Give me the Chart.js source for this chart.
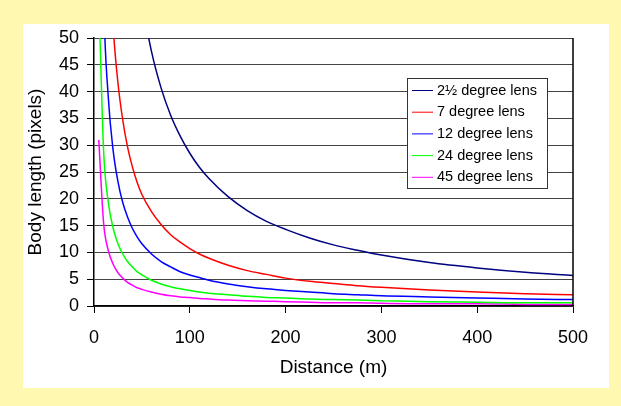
<!DOCTYPE html>
<html>
<head>
<meta charset="utf-8">
<script src="https://cdn.jsdelivr.net/npm/chart.js@4.4.0/dist/chart.umd.min.js"></script>
<style>
  html, body { margin: 0; padding: 0; background: #fff8b0; }
  #panel { position: absolute; left: 23px; top: 24px; width: 586px; height: 364px; background: #fff; }
  canvas { display: block; }
</style>
</head>
<body>
<div id="panel"><canvas id="chart" width="586" height="364"></canvas></div>
<script>
// distance in metres
const distances = [5, 10, 15, 20, 25, 30, 35, 40, 45, 50, 60, 70, 80, 90, 100, 110, 120, 140, 160, 180, 200, 225, 250, 275, 300, 350, 400, 450, 500];

// body length in pixels
const lens2_5 = [570, 285, 190, 142, 114, 95, 81.4, 71.3, 63.3, 57, 47.5, 40.7, 35.6, 31.7, 28.5, 25.9, 23.8, 20.4, 17.8, 15.8, 14.3, 12.7, 11.4, 10.4, 9.5, 8.1, 7.1, 6.3, 5.7];
const lens7 = [208, 104, 69.3, 52, 41.6, 34.7, 29.7, 26, 23.1, 20.8, 17.6, 15.2, 13.3, 11.9, 10.7, 9.7, 8.9, 7.6, 6.6, 5.9, 5.2, 4.6, 4.2, 3.8, 3.5, 3.0, 2.6, 2.3, 2.1];
const lens12 = [116, 58, 38.7, 29, 23.2, 19.3, 16.6, 14.5, 12.9, 11.6, 9.7, 8.3, 7.3, 6.4, 5.8, 5.3, 4.8, 4.1, 3.6, 3.2, 2.9, 2.6, 2.3, 2.1, 1.9, 1.7, 1.5, 1.3, 1.2];
const lens24 = [58, 29, 19.3, 14.5, 11.6, 9.7, 8.3, 7.3, 6.4, 5.8, 4.8, 4.1, 3.6, 3.2, 2.9, 2.6, 2.4, 2.1, 1.8, 1.6, 1.5, 1.3, 1.2, 1.1, 1.0, 0.8, 0.7, 0.6, 0.6];
const lens45 = [31, 15.5, 10.3, 7.8, 6.2, 5.2, 4.4, 3.9, 3.4, 3.1, 2.6, 2.2, 1.9, 1.7, 1.6, 1.4, 1.3, 1.1, 1.0, 0.9, 0.8, 0.7, 0.6, 0.6, 0.5, 0.4, 0.4, 0.3, 0.3];

const seriesNames = ['2½ degree lens', '7 degree lens', '12 degree lens', '24 degree lens', '45 degree lens'];
const seriesValues = [lens2_5, lens7, lens12, lens24, lens45];
const seriesColors = ['#000080', '#ff0000', '#0000ff', '#00ff00', '#ff00ff'];

const yTicks = [0, 5, 10, 15, 20, 25, 30, 35, 40, 45, 50];
const xTicks = [0, 100, 200, 300, 400, 500];

const FONT = 'Arial, "Liberation Sans", Helvetica, sans-serif';

// box legend drawn inside the plot, like the original
const boxLegend = {
  id: 'boxLegend',
  afterDraw(chart) {
    const ctx = chart.ctx;
    const x = 384, y = 54, w = 140, h = 110;
    ctx.save();
    ctx.fillStyle = '#fff';
    ctx.fillRect(x, y, w, h);
    ctx.strokeStyle = '#333';
    ctx.lineWidth = 1;
    ctx.strokeRect(x + 0.5, y + 0.5, w, h);
    ctx.font = '14.5px ' + FONT;
    ctx.textBaseline = 'middle';
    chart.data.datasets.forEach((ds, i) => {
      const cy = y + 12.5 + i * 21.7;
      ctx.strokeStyle = ds.borderColor;
      ctx.lineWidth = 1;
      ctx.beginPath();
      ctx.moveTo(x + 5, cy);
      ctx.lineTo(x + 26, cy);
      ctx.stroke();
      ctx.fillStyle = '#000';
      ctx.fillText(ds.label, x + 30, cy);
    });
    // right border of plot area
    const a = chart.chartArea;
    ctx.strokeStyle = '#000';
    ctx.lineWidth = 1.5;
    ctx.beginPath();
    ctx.moveTo(a.right, a.top);
    ctx.lineTo(a.right, a.bottom);
    ctx.stroke();
    ctx.restore();
  }
};

new Chart(document.getElementById('chart'), {
  type: 'line',
  data: {
    datasets: seriesNames.map((name, i) => ({
      label: name,
      data: distances.map((d, j) => ({x: d, y: seriesValues[i][j]})),
      borderColor: seriesColors[i],
      backgroundColor: seriesColors[i],
      borderWidth: 1.5,
      pointRadius: 0,
      cubicInterpolationMode: 'monotone',
      fill: false
    }))
  },
  options: {
    responsive: false,
    animation: false,
    devicePixelRatio: 1,
    layout: {padding: {left: 0, right: 36, top: 14, bottom: 0}},
    plugins: {legend: {display: false}, tooltip: {enabled: false}},
    scales: {
      x: {
        type: 'linear',
        min: 0,
        max: 500,
        afterBuildTicks: s => { s.ticks = xTicks.map(v => ({value: v})); },
        afterFit: s => { s.height = 82; s.paddingLeft = 0; s.paddingRight = 0; },
        ticks: {color: '#000', font: {family: FONT, size: 18}, padding: 14, maxRotation: 0},
        grid: {drawOnChartArea: false, tickLength: 7, tickColor: '#000'},
        border: {color: '#000', width: 1.5},
        title: {display: true, text: 'Distance (m)', color: '#000', font: {family: FONT, size: 19}, padding: {top: 4, bottom: 9}}
      },
      y: {
        min: 0,
        max: 50,
        afterBuildTicks: s => { s.ticks = yTicks.map(v => ({value: v})); },
        afterFit: s => { s.width = 71; s.paddingTop = 0; s.paddingBottom = 0; },
        ticks: {color: '#000', font: {family: FONT, size: 18}, padding: 8},
        grid: {color: '#444', lineWidth: 1, tickLength: 7, tickColor: '#000'},
        border: {color: '#000', width: 1.5},
        title: {display: true, text: 'Body length (pixels)', color: '#000', font: {family: FONT, size: 19}, padding: {top: 1, bottom: 4}}
      }
    }
  },
  plugins: [boxLegend]
});
</script>
</body>
</html>
